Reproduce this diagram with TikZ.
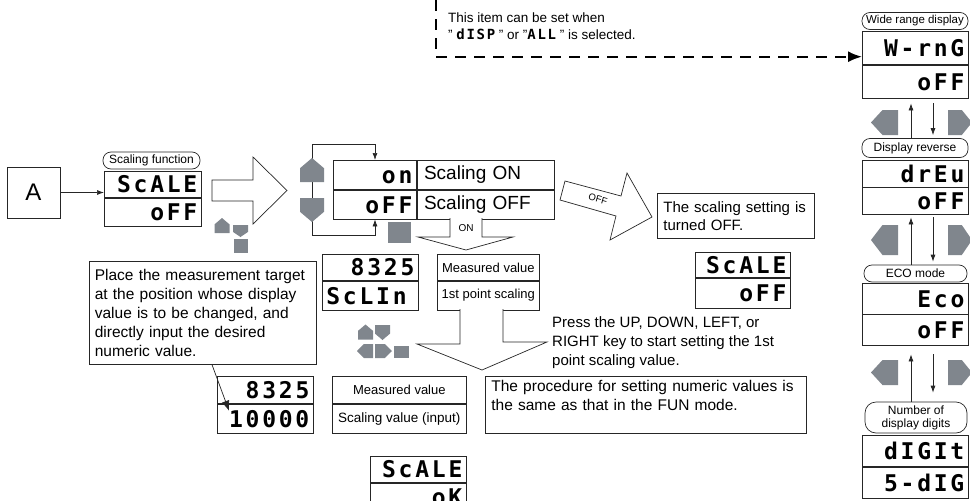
\documentclass[tikz,border=0pt]{standalone}
\usepackage{fontspec}
\setmainfont{Liberation Sans}
\newfontfamily\segfont{DejaVu Sans Mono}[LetterSpace=12]
\usetikzlibrary{arrows.meta, positioning}
\definecolor{keygray}{RGB}{128,134,141}

\tikzset{
  box/.style={draw=black!85, line width=0.7pt},
  pill/.style={box, rounded corners=8pt, inner sep=0pt, align=center, font=\fontsize{12}{13}\selectfont},
  lcd/.style={box, inner xsep=4pt, inner ysep=0pt, text width=#1, align=right, text height=17pt, text depth=0pt, font=\segfont\bfseries\fontsize{23}{23}\selectfont},
  cell/.style={box, inner sep=0pt, font=\fontsize{13}{14}\selectfont},
  note/.style={box, inner xsep=6pt, inner ysep=4pt, align=left, font=\fontsize{15.5}{19}\selectfont},
  bigarrow/.style={box, fill=white, line join=miter},
  dasharrow/.style={line width=2pt, dash pattern=on 11pt off 8pt, -{Latex[length=14pt,width=11pt]}},
  keyup/.pic={\fill[keygray] (-1,1) -- (-1,-0.15) -- (0,-1) -- (1,-0.15) -- (1,1) -- cycle;},
  keydown/.pic={\fill[keygray] (-1,-1) -- (-1,0.15) -- (0,1) -- (1,0.15) -- (1,-1) -- cycle;},
  keyleft/.pic={\fill[keygray] (1,-1) -- (-0.15,-1) -- (-1,0) -- (-0.15,1) -- (1,1) -- cycle;},
  keyright/.pic={\fill[keygray] (-1,-1) -- (0.15,-1) -- (1,0) -- (0.15,1) -- (-1,1) -- cycle;},
  keysq/.pic={\fill[keygray] (-1,-1) rectangle (1,1);}
}

\begin{document}
\begin{tikzpicture}[x=1pt, y=-1pt, >={Latex[length=7pt,width=5pt]}]
\useasboundingbox (0,0) rectangle (970,501);

% start: scaling function
\node[box, minimum width=53pt, minimum height=51pt, inner sep=0pt, font=\fontsize{24}{24}\selectfont] (A) at (33.5,192.5) {A};
\node[pill, minimum width=97pt, minimum height=17pt] (scfn) at (151.5,160.5) {Scaling function};
\node[lcd=89pt, minimum height=26pt, anchor=north west] (sc1) at (104,171) {ScALE};
\node[lcd=89pt, minimum height=28pt, below=0pt of sc1] (sc2) {oFF};
\draw[box, ->] (A.east) -- (A.east -| sc1.west);

\draw[bigarrow] (212,180) -- (253,180) -- (253,157) -- (287,190.5) -- (253,224) -- (253,201) -- (212,201) -- cycle;
\pic[scale=7.5] at (222,225.5) {keyup};
\pic[xscale=7.5, yscale=6] at (240.5,231) {keydown};
\pic[scale=7] at (241,245.5) {keysq};

% ON / OFF selection
\node[lcd=75pt, minimum height=29pt, anchor=north west] (on) at (333,160) {on};
\node[cell, inner xsep=7pt, text width=123pt, minimum height=29pt, align=left, font=\fontsize{19}{20}\selectfont, right=0pt of on] (onlbl) {Scaling ON};
\node[lcd=75pt, minimum height=29pt, below=0pt of on] (off) {oFF};
\node[cell, inner xsep=7pt, text width=123pt, minimum height=29pt, align=left, font=\fontsize{19}{20}\selectfont, right=0pt of off] (offlbl) {Scaling OFF};

\coordinate (lt) at (312,144);
\coordinate (lb) at (312,235);
\coordinate (lx) at (375,0);
\draw[box] (lt) -- (lb);
\draw[box, ->] (lt) -| (on.north -| lx);
\draw[box, ->] (lb) -| (off.south -| lx);
\pic[scale=12] at (312,170) {keyup};
\pic[scale=12] at (312,210) {keydown};
\pic[xscale=11.5, yscale=10.5] at (399.5,232.5) {keysq};

\draw[bigarrow] (450,218) -- (450,237) -- (418,237) -- (466,250) -- (513,237) -- (482,237) -- (482,218);
\node[inner sep=0pt, font=\fontsize{10}{10}\selectfont] (onarr) at (466,228) {ON};

\draw[bigarrow] (565,181) -- (621,196) -- (627,173) -- (652,217) -- (610,240) -- (616,216) -- (560,200) -- cycle;
\node[inner sep=0pt, rotate=-16, font=\fontsize{9.5}{10}\selectfont] (offarr) at (598,199) {OFF};

\node[note, anchor=north west, text width=145pt, minimum height=45pt, font=\fontsize{15}{18}\selectfont] (offnote) at (657,193) {The scaling setting is\\turned OFF.};
\node[lcd=87pt, minimum height=25pt, anchor=north west] (sc3) at (695,252) {ScALE};
\node[lcd=87pt, minimum height=30pt, below=0pt of sc3] (sc4) {oFF};

% 1st point scaling
\node[lcd=88pt, minimum height=26pt, anchor=north west] (mv1) at (322,254) {8325};
\node[lcd=88pt, minimum height=29pt, align=left, below=0pt of mv1] (mv2) {ScLIn};
\node[cell, minimum width=102pt, minimum height=26pt, anchor=north west] (mv3) at (437,254) {Measured value};
\node[cell, minimum width=102pt, minimum height=29pt, below=0pt of mv3] (mv4) {1st point scaling};

\node[note, anchor=north west, inner xsep=5.5pt, text width=216pt, minimum height=103pt] (place) at (89,261) {Place the measurement target\\at the position whose display\\value is to be changed, and\\directly input the desired\\numeric value.};

\pic[scale=7.5] at (365.5,332) {keyup};
\pic[scale=7.5] at (382.5,332.5) {keydown};
\pic[xscale=8, yscale=7] at (365,351) {keyleft};
\pic[xscale=8.5, yscale=7] at (383.5,351) {keyright};
\pic[xscale=7.5, yscale=6] at (401.5,352) {keysq};

\draw[bigarrow] (460,309) -- (460,344) -- (417,344) -- (482,370) -- (547,342) -- (503,342) -- (503,309);
\node[anchor=north west, inner sep=0pt, align=left, font=\fontsize{15}{19}\selectfont] (press) at (552,316) {Press the UP, DOWN, LEFT, or\\RIGHT key to start setting the 1st\\point scaling value.};

\node[lcd=88pt, minimum height=27pt, anchor=north west] (dv1) at (217,376) {8325};
\node[lcd=88pt, minimum height=29pt, below=0pt of dv1] (dv2) {10000};
\draw[box, ->, >={Latex[length=10pt,width=8pt]}] ([xshift=123pt]place.south west) -- ([xshift=12pt,yshift=-7pt]dv2.north west);

\node[cell, minimum width=134pt, minimum height=27pt, anchor=north west] (sv1) at (332,376) {Measured value};
\node[cell, minimum width=134pt, minimum height=29pt, below=0pt of sv1, font=\fontsize{13.5}{14}\selectfont] (sv2) {Scaling value (input)};

\node[note, anchor=north west, inner ysep=4pt, text width=309pt, minimum height=56pt] (proc) at (485,376) {The procedure for setting numeric values is\\the same as that in the FUN mode.\\~};

\node[lcd=88pt, minimum height=26pt, anchor=north west] (ok1) at (370,456) {ScALE};
\node[lcd=88pt, minimum height=27pt, below=0pt of ok1] (ok2) {oK};

% other settings
\coordinate (dtop) at (436,0);
\node[anchor=north west, inner sep=0pt, align=left, font=\fontsize{13.5}{17}\selectfont] (cond) at (448,13) {This item can be set when\\" {\segfont\bfseries\fontsize{14}{14}\selectfont dISP} " or "{\segfont\bfseries\fontsize{14}{14}\selectfont ALL} " is selected.};

\node[pill, minimum width=106pt, minimum height=17pt, font=\fontsize{11.5}{12}\selectfont] (wpill) at (915,21) {Wide range display};
\node[lcd=98pt, minimum height=33pt, anchor=north west] (wr1) at (862,31) {W-rnG};
\node[lcd=98pt, minimum height=33pt, below=0pt of wr1] (wr2) {oFF};
\draw[dasharrow] (dtop) |- ([yshift=8pt]wr1.south west);

\node[pill, minimum width=106pt, minimum height=19pt] (rpill) at (915,148) {Display reverse};
\node[lcd=98pt, minimum height=26.5pt, anchor=north west] (dr1) at (862,160) {drEu};
\node[lcd=98pt, minimum height=26.5pt, below=0pt of dr1] (dr2) {oFF};

\node[pill, minimum width=103pt, minimum height=17pt] (epill) at (915.5,273.5) {ECO mode};
\node[lcd=98pt, minimum height=30.5pt, anchor=north west] (ec1) at (862,283) {Eco};
\node[lcd=98pt, minimum height=30.5pt, below=0pt of ec1] (ec2) {oFF};

\node[pill, rounded corners=11pt, minimum width=102pt, minimum height=31pt] (npill) at (916,417.5) {Number of\\display digits};
\node[lcd=98pt, minimum height=31pt, anchor=north west] (dg1) at (862,435) {dIGIt};
\node[lcd=98pt, minimum height=31pt, below=0pt of dg1] (dg2) {5-dIG};

\coordinate (cu) at (911,0);
\coordinate (cd) at (933,0);
\draw[box, ->, shorten >=5pt] (rpill.north -| cu) -- (wr2.south -| cu);
\draw[box, ->, shorten <=5pt, shorten >=3pt] (wr2.south -| cd) -- (rpill.north -| cd);
\draw[box, ->, shorten >=3pt] (epill.north -| cu) -- (dr2.south -| cu);
\draw[box, ->, shorten <=3pt, shorten >=3pt] (dr2.south -| cd) -- (epill.north -| cd);
\draw[box, ->, shorten >=9pt] (npill.north -| cu) -- (ec2.south -| cu);
\draw[box, ->, shorten <=9pt, shorten >=9pt] (ec2.south -| cd) -- (npill.north -| cd);

\pic[xscale=13.5, yscale=12.5] at (884.5,122.5) {keyleft};
\pic[xscale=12, yscale=12.5] at (960,122.5) {keyright};
\pic[xscale=13.5, yscale=15] at (884.5,240) {keyleft};
\pic[xscale=12, yscale=15] at (960,240) {keyright};
\pic[xscale=13.5, yscale=12.5] at (884.5,372.5) {keyleft};
\pic[xscale=12, yscale=12.5] at (960,372.5) {keyright};
\end{tikzpicture}
\end{document}
